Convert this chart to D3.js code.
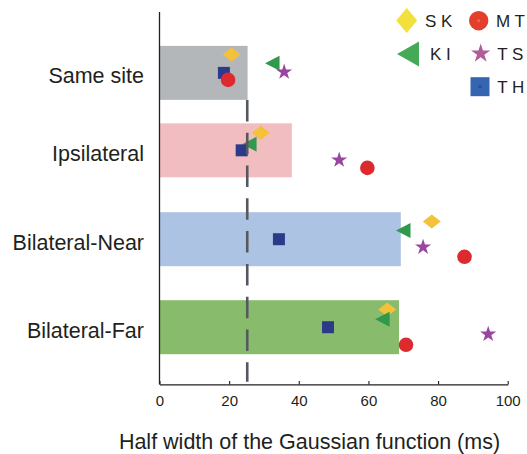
<!DOCTYPE html>
<html>
<head>
<meta charset="utf-8">
<script src="https://cdn.jsdelivr.net/npm/d3@7"></script>
<style>
  body { margin: 0; background: #fff; }
  svg { display: block; font-family: "Liberation Sans", Arial, sans-serif; }
</style>
</head>
<body>
<div id="chart"></div>
<script>
// --- data ---
const categories = ["Same site", "Ipsilateral", "Bilateral-Near", "Bilateral-Far"];
const catPos = [0.61, 1.49, 2.5, 3.5];          // row position (y units)
const barValues = [25.3, 38.0, 69.3, 68.8];
const barColors = ["#b4b7ba", "#f2bdc1", "#adc3e3", "#88bb6c"];
const threshold = 25.2;
const xTicks = [0, 20, 40, 60, 80, 100];

// per-monkey half widths (x) and row positions (y)
const skX = [20.7, 29.1, 78.2, 65.4], skY = [0.40, 1.29, 2.30, 3.30];
const kiX = [32.4, 25.8, 70.0, 64.0], kiY = [0.50, 1.42, 2.40, 3.41];
const tsX = [35.8, 51.6, 75.7, 94.4], tsY = [0.60, 1.60, 2.59, 3.58];
const thX = [18.5, 23.6, 34.3, 48.4], thY = [0.61, 1.49, 2.50, 3.50];
const mtX = [19.7, 59.7, 87.6, 70.8], mtY = [0.69, 1.69, 2.70, 3.70];

const series = [
  {name: "S K", shape: "diamond",  color: "#f3c13a", legend: "#f2e03c", x: skX, y: skY},
  {name: "K I", shape: "triangle", color: "#2f9a4c", legend: "#44aa55", x: kiX, y: kiY},
  {name: "T S", shape: "star",     color: "#9a45a0", legend: "#b05d98", x: tsX, y: tsY},
  {name: "T H", shape: "square",   color: "#2c3a8c", legend: "#3565b0", x: thX, y: thY},
  {name: "M T", shape: "circle",   color: "#dd2a2e", legend: "#e2402c", x: mtX, y: mtY}
];

const width = 527, height = 454;
const ink = "#231f20";

const x = d3.scaleLinear().domain([0, 100]).range([159.5, 507.7]);
const y = d3.scaleLinear().domain([0, 4.15]).range([19.2, 384.4]);
const barH = 54;

const svg = d3.select("#chart").append("svg")
  .attr("width", width).attr("height", height);

// --- bars ---
svg.append("g").selectAll("rect")
  .data(categories)
  .join("rect")
    .attr("x", x(0))
    .attr("y", (d, i) => y(catPos[i]) - barH / 2)
    .attr("width", (d, i) => x(barValues[i]) - x(0))
    .attr("height", barH)
    .attr("fill", (d, i) => barColors[i]);

// --- marker shapes ---
function shapePath(shape, w, h) {
  const p = d3.path();
  if (shape === "diamond") {
    p.moveTo(0, -h / 2); p.lineTo(w / 2, 0); p.lineTo(0, h / 2); p.lineTo(-w / 2, 0); p.closePath();
    return p.toString();
  }
  if (shape === "triangle") {
    p.moveTo(-w / 2, 0); p.lineTo(w / 2, -h / 2); p.lineTo(w / 2, h / 2); p.closePath();
    return p.toString();
  }
  if (shape === "square") {
    p.rect(-w / 2, -h / 2, w, h);
    return p.toString();
  }
  if (shape === "circle") {
    p.arc(0, 0, w / 2, 0, 2 * Math.PI); p.closePath();
    return p.toString();
  }
  // star: size from outer diameter
  return d3.symbol(d3.symbolStar, Math.pow(w / 2 / 0.89, 2) * 1.0)();
}

const dataSize = {diamond: [18, 14], triangle: [14.5, 15], star: [16, 16], square: [12, 12], circle: [14.6, 14.6]};
const legendSize = {diamond: [21, 25], triangle: [22, 25], star: [19, 19], square: [19, 19], circle: [19.4, 19.4]};

const pts = svg.append("g");
series.forEach(s => {
  const sz = dataSize[s.shape];
  pts.selectAll(null)
    .data(s.x.map((v, i) => ({v, r: s.y[i]})))
    .join("path")
      .attr("transform", d => `translate(${x(d.v)},${y(d.r)})`)
      .attr("d", shapePath(s.shape, sz[0], sz[1]))
      .attr("fill", s.color);
});

// --- threshold dashed line ---
svg.append("line")
  .attr("x1", x(threshold)).attr("x2", x(threshold))
  .attr("y1", y(catPos[0]) + barH / 2).attr("y2", 381.7)
  .attr("stroke", "#55595e").attr("stroke-width", 2.6)
  .attr("stroke-dasharray", "21.5 11.3");

// --- axes ---
svg.append("line")
  .attr("x1", x(0)).attr("x2", x(0))
  .attr("y1", 12).attr("y2", y.range()[1])
  .attr("stroke", ink).attr("stroke-width", 1.3);

const xAxis = svg.append("g")
  .attr("transform", `translate(0,${y.range()[1]})`)
  .call(d3.axisBottom(x).tickValues(xTicks).tickSizeInner(-3.5).tickSizeOuter(0).tickPadding(11));
xAxis.select(".domain").attr("stroke", ink).attr("stroke-width", 1.3);
xAxis.selectAll(".tick line").attr("stroke", ink).attr("stroke-width", 1.1);
xAxis.selectAll(".tick text")
  .attr("fill", ink).style("font-size", "15px")
  .style("font-family", "'Liberation Sans', Arial, sans-serif");

svg.append("text")
  .attr("x", 309.5).attr("y", 449.3)
  .attr("text-anchor", "middle")
  .attr("fill", ink).style("font-size", "21.5px")
  .text("Half width of the Gaussian function (ms)");

// category labels
svg.append("g").selectAll("text")
  .data(categories)
  .join("text")
    .attr("x", 144)
    .attr("y", (d, i) => y(catPos[i]) + 10.5)
    .attr("text-anchor", "end")
    .attr("fill", ink).style("font-size", "21.5px")
    .text(d => d);

// --- legend ---
const legendPos = {
  "S K": [406.7, 20.5, 425], "M T": [478.7, 20.7, 496],
  "K I": [408, 54, 430],     "T S": [480.7, 53.5, 497.3],
  "T H": [480, 86.7, 497.3]
};
const lg = svg.append("g");
series.forEach(s => {
  const [cx, cy, tx] = legendPos[s.name];
  const sz = legendSize[s.shape];
  lg.append("path")
    .attr("transform", `translate(${cx},${cy})`)
    .attr("d", shapePath(s.shape, sz[0], sz[1]))
    .attr("fill", s.legend);
  if (s.shape === "circle" || s.shape === "square") {
    lg.append("circle").attr("cx", cx).attr("cy", cy).attr("r", 1.6)
      .attr("fill", s.shape === "circle" ? "#e8683a" : "#3046a0");
  }
  lg.append("text")
    .attr("x", tx).attr("y", cy + 6.3)
    .attr("fill", ink).style("font-size", "17px")
    .text(s.name);
});
</script>
</body>
</html>
